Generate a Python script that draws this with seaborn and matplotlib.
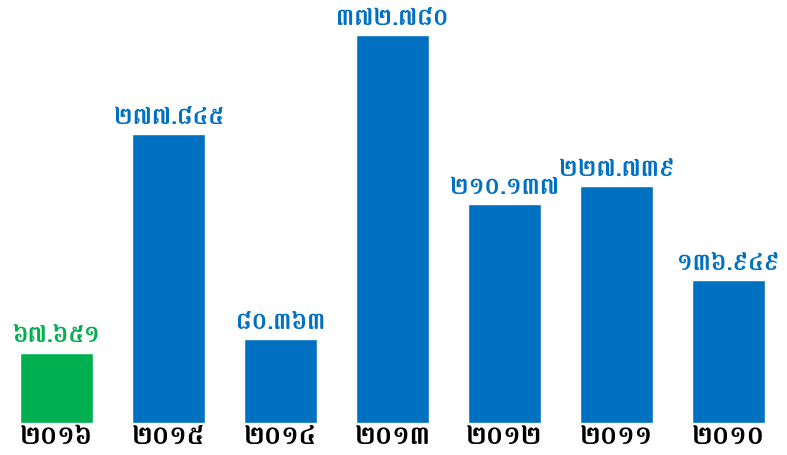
import matplotlib
matplotlib.use("Agg")
import matplotlib.pyplot as plt
import seaborn as sns
import pandas as pd

years = ["២០១៦", "២០១៥", "២០១៤", "២០១៣", "២០១២", "២០១១", "២០១០"]
values = [67.651, 277.845, 80.363, 372.780, 210.137, 227.739, 136.949]
value_labels = ["៦៧.៦៥១", "២៧៧.៨៤៥", "៨០.៣៦៣", "៣៧២.៧៨០", "២១០.១៣៧", "២២៧.៧៣៩", "១៣៦.៩៤៩"]
colors = ["#00B050", "#0070C0", "#0070C0", "#0070C0", "#0070C0", "#0070C0", "#0070C0"]

sns.set_style("white")
plt.rcParams['font.family'] = ['Battambang', 'DejaVu Sans']

df = pd.DataFrame({"year": years, "value": values})

fig = plt.figure(figsize=(7.87, 4.55), dpi=100)
ax = fig.add_axes([20 / 787, 32 / 455, 745 / 787, 388 / 455])

sns.barplot(data=df, x="year", y="value", hue="year", palette=colors,
            order=years, legend=False, width=0.65, saturation=1, ax=ax)

ax.set_xlim(-0.325, 6.325)
ax.set_ylim(0, max(values))

for i, (v, lab, c) in enumerate(zip(values, value_labels, colors)):
    ax.text(i, v + 5, lab, ha='center', va='bottom', color=c,
            fontsize=17, fontweight='bold', clip_on=False)

ax.set_xticks(range(len(years)))
ax.set_xticklabels(years, fontsize=19, fontweight='bold', color='black')
ax.tick_params(axis='x', length=0, pad=1)
ax.set_yticks([])
ax.set_xlabel("")
ax.set_ylabel("")
for s in ax.spines.values():
    s.set_visible(False)

fig.savefig("out.png", dpi=100)
